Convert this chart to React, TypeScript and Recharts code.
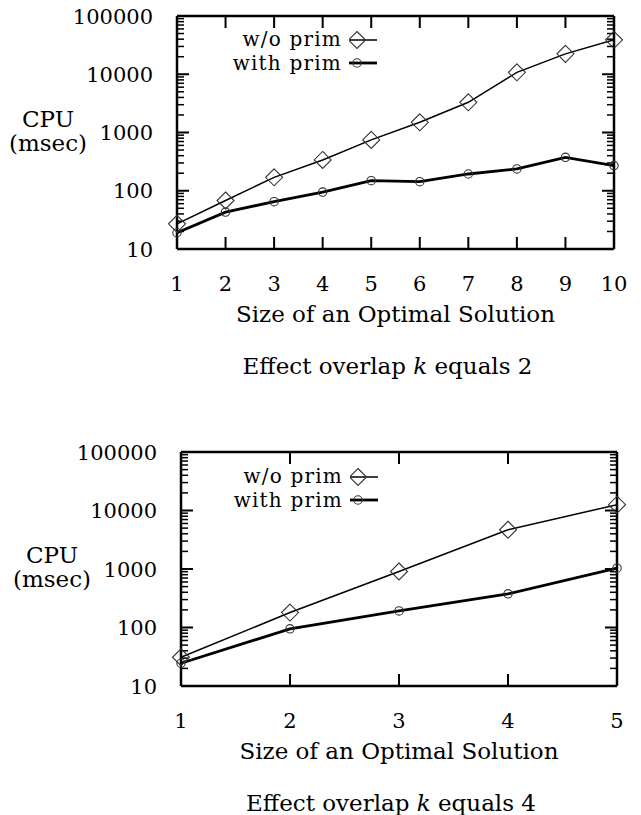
import { LineChart, Line, XAxis, YAxis, ReferenceLine } from 'recharts';

const FONT = '"DejaVu Serif", serif';

// Effect overlap k = 2
const sizesK2 = [1, 2, 3, 4, 5, 6, 7, 8, 9, 10];
const woPrimK2 = [27, 68, 170, 338, 747, 1496, 3300, 10800, 22400, 39000];
const withPrimK2 = [19, 43, 65, 95, 149, 143, 194, 237, 375, 270];

// Effect overlap k = 4
const sizesK4 = [1, 2, 3, 4, 5];
const woPrimK4 = [31, 180, 906, 4690, 12560];
const withPrimK4 = [24.5, 95, 192, 376, 1035];

const decadeTicks = [10, 100, 1000, 10000, 100000];
const minorTicks = decadeTicks
  .slice(0, -1)
  .flatMap((d) => [2, 3, 4, 5, 6, 7, 8, 9].map((m) => d * m));
const cpuTicks = [...decadeTicks, ...minorTicks];

const seriesNames: Record<string, string> = { woPrim: 'w/o prim', withPrim: 'with prim' };
const legendRows = [
  { dataKey: 'woPrim', value: seriesNames.woPrim },
  { dataKey: 'withPrim', value: seriesNames.withPrim },
];

const MAJOR = 12;
const MINOR = 7;
const frame = { stroke: '#000', strokeWidth: 2.5 };

const isMajor = (v: number) => decadeTicks.includes(v);

function HBar({ x, y, len }: { x: number; y: number; len: number }) {
  const w = Math.abs(len) >= MAJOR ? 2 : 1.5;
  return <rect x={len > 0 ? x : x + len} y={y - w / 2} width={Math.abs(len)} height={w} fill="#000" />;
}

function VBar({ x, y, len }: { x: number; y: number; len: number }) {
  return <rect x={x - 1} y={len > 0 ? y : y + len} width={2} height={Math.abs(len)} fill="#000" />;
}

function LeftTick({ x, y, payload }: any) {
  return (
    <text x={Number(x) - 24} y={y} dy="0.36em" textAnchor="end" fontFamily={FONT} fontSize={21} fill="#000">
      {payload.value}
    </text>
  );
}

function BottomTick({ x, y, payload }: any) {
  return (
    <text x={x} y={Number(y) + 34} dy="0.36em" textAnchor="middle" fontFamily={FONT} fontSize={21} fill="#000">
      {payload.value}
    </text>
  );
}

// inward ticks on both sides of the frame, at the reference line ends
const yRefShape = (major: boolean) => (p: any) => {
  const left = Math.min(p.x1, p.x2);
  const right = Math.max(p.x1, p.x2);
  const len = major ? MAJOR : MINOR;
  return (
    <g>
      <HBar x={left} y={p.y1} len={len} />
      <HBar x={right} y={p.y1} len={-len} />
    </g>
  );
};

const xRefShape = (p: any) => {
  const top = Math.min(p.y1, p.y2);
  const bottom = Math.max(p.y1, p.y2);
  return (
    <g>
      <VBar x={p.x1} y={top} len={MAJOR} />
      <VBar x={p.x1} y={bottom} len={-MAJOR} />
    </g>
  );
};

function Marker({ kind, cx, cy }: { kind: string; cx: number; cy: number }) {
  if (kind === 'woPrim') {
    const r = 8.5;
    return (
      <path
        d={`M${cx},${cy - r}L${cx + r},${cy}L${cx},${cy + r}L${cx - r},${cy}Z`}
        fill="none"
        stroke="#333"
        strokeWidth={1.1}
      />
    );
  }
  return <circle cx={cx} cy={cy} r={4.2} fill="none" stroke="#333" strokeWidth={1.1} />;
}

const dotFor = (kind: string) => (p: any) => {
  if (p.cx == null || p.cy == null) return <g key={p.index} />;
  return <Marker key={p.index} kind={kind} cx={p.cx} cy={p.cy} />;
};

function LegendBox({ payload }: any) {
  return (
    <div style={{ fontFamily: FONT, fontSize: 20, letterSpacing: 1.2, color: '#000' }}>
      {(payload || []).map((entry: any) => (
        <div
          key={entry.dataKey}
          style={{ display: 'flex', justifyContent: 'flex-end', alignItems: 'center', height: 23.5 }}
        >
          <span style={{ lineHeight: '23.5px', whiteSpace: 'nowrap' }}>{entry.value}</span>
          <svg width={30} height={20} style={{ marginLeft: 7, display: 'block' }}>
            <line x1={0} y1={10} x2={28} y2={10} stroke="#000" strokeWidth={entry.dataKey === 'woPrim' ? 1.5 : 2.8} />
            <Marker kind={entry.dataKey} cx={8} cy={10} />
          </svg>
        </div>
      ))}
    </div>
  );
}

interface PanelProps {
  sizes: number[];
  woPrim: number[];
  withPrim: number[];
  k: number;
  height: number;
  margin: { top: number; right: number; bottom: number; left: number };
  leftWidth: number;
  bottomHeight: number;
  legendPos: { left: number; top: number };
}

function CpuPanel({ sizes, woPrim, withPrim, k, height, margin, leftWidth, bottomHeight, legendPos }: PanelProps) {
  const rows = sizes.map((size, i) => ({ size, woPrim: woPrim[i], withPrim: withPrim[i] }));
  const xMax = sizes[sizes.length - 1];
  const plotTop = margin.top;
  const plotLeft = margin.left + leftWidth;
  const plotRight = 641 - margin.right;
  const plotBottom = height - margin.bottom - bottomHeight;
  const cx = (plotLeft + plotRight) / 2;

  return (
    <div style={{ position: 'relative', width: 641, height }}>
      <LineChart width={641} height={height} data={rows} margin={margin}>
        <XAxis
          dataKey="size"
          type="number"
          domain={[sizes[0], xMax]}
          ticks={sizes}
          height={bottomHeight}
          tickLine={false}
          tickSize={0}
          tickMargin={0}
          axisLine={frame}
          tick={(p: any) => <BottomTick {...p} />}
        />
        <YAxis
          scale="log"
          domain={[10, 100000]}
          ticks={decadeTicks}
          width={leftWidth}
          tickLine={false}
          tickSize={0}
          tickMargin={0}
          axisLine={frame}
          tick={(p: any) => <LeftTick {...p} />}
        />
        <ReferenceLine y={100000} stroke="#000" strokeWidth={2.5} />
        <ReferenceLine x={xMax} stroke="#000" strokeWidth={2.5} />
        {cpuTicks.map((v) => (
          <ReferenceLine key={`y${v}`} y={v} shape={yRefShape(isMajor(v))} />
        ))}
        {sizes.map((s) => (
          <ReferenceLine key={`x${s}`} x={s} shape={xRefShape} />
        ))}
        <Line
          type="linear"
          dataKey="woPrim"
          name={seriesNames.woPrim}
          stroke="#000"
          strokeWidth={1.5}
          dot={dotFor('woPrim')}
          activeDot={false}
          isAnimationActive={false}
        />
        <Line
          type="linear"
          dataKey="withPrim"
          name={seriesNames.withPrim}
          stroke="#000"
          strokeWidth={2.8}
          dot={dotFor('withPrim')}
          activeDot={false}
          isAnimationActive={false}
        />
      </LineChart>
      <svg width={641} height={height} style={{ position: 'absolute', left: 0, top: 0, pointerEvents: 'none' }}>
        <g fontFamily={FONT} fontSize={23} fill="#000">
          <text x={plotLeft - 129} y={plotTop + 111} textAnchor="middle">CPU</text>
          <text x={plotLeft - 129} y={plotTop + 135} textAnchor="middle">(msec)</text>
          <text x={cx} y={plotBottom + 72.5} textAnchor="middle">Size of an Optimal Solution</text>
          <text x={cx - 8} y={plotBottom + 125} textAnchor="middle">
            Effect overlap <tspan fontStyle="italic">k</tspan> equals {k}
          </text>
        </g>
      </svg>
      <div style={{ position: 'absolute', left: legendPos.left, top: legendPos.top, width: 200 }}>
        <LegendBox payload={legendRows} />
      </div>
    </div>
  );
}

export default function App() {
  return (
    <div style={{ position: 'absolute', left: 0, top: 0, width: 641, height: 815 }}>
      <div style={{ position: 'absolute', left: 0, top: 0 }}>
        <CpuPanel
          sizes={sizesK2}
          woPrim={woPrimK2}
          withPrim={withPrimK2}
          k={2}
          height={400}
          margin={{ top: 16, right: 27, bottom: 11, left: 0 }}
          leftWidth={177}
          bottomHeight={140}
          legendPos={{ left: 179, top: 28 }}
        />
      </div>
      <div style={{ position: 'absolute', left: 0, top: 400 }}>
        <CpuPanel
          sizes={sizesK4}
          woPrim={woPrimK4}
          withPrim={withPrimK4}
          k={4}
          height={415}
          margin={{ top: 52, right: 24, bottom: 0, left: 0 }}
          leftWidth={181}
          bottomHeight={129}
          legendPos={{ left: 180, top: 65 }}
        />
      </div>
    </div>
  );
}
